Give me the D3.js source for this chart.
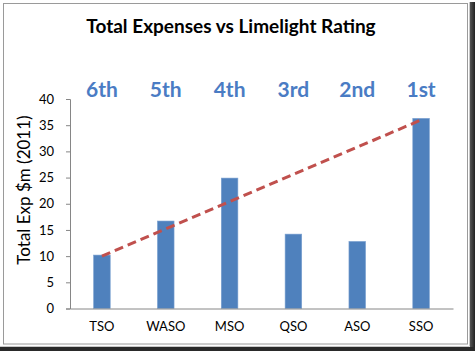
<!DOCTYPE html>
<meta charset="utf-8">
<script src="https://d3js.org/d3.v7.min.js"></script>
<style>
  body { margin: 0; background: #fff; }
  text { font-family: Lato, "Open Sans", sans-serif; }
</style>
<div id="chart"></div>
<script>

  // data
  var orchestras = ["TSO", "WASO", "MSO", "QSO", "ASO", "SSO"];
  var expenses = [10.2, 16.7, 24.9, 14.2, 12.8, 36.3];
  var ratings = ["6th", "5th", "4th", "3rd", "2nd", "1st"];
  var yTicks = [0, 5, 10, 15, 20, 25, 30, 35, 40];
  // dashed line from the 6th to the 1st
  var trendCats = ["TSO", "SSO"];
  var trendValues = [10, 36];

  var W = 475, H = 351;
  var margin = {top: 99, right: 22, bottom: 42.5, left: 70},
      width = 453 - margin.left,
      height = 308.5 - margin.top;

  var svg = d3.select("#chart")
    .append("svg")
      .attr("width", W)
      .attr("height", H);

  // frame + shadow
  var grad = svg.append("defs").append("linearGradient")
      .attr("id", "shadowR").attr("x1", 0).attr("x2", 1).attr("y1", 0).attr("y2", 0);
  grad.append("stop").attr("offset", "0%").attr("stop-color", "#555");
  grad.append("stop").attr("offset", "100%").attr("stop-color", "#222");
  svg.append("rect").attr("x", 470).attr("y", 2).attr("width", 5).attr("height", 349).style("fill", "url(#shadowR)");
  svg.append("rect").attr("x", 0).attr("y", 347).attr("width", 475).attr("height", 4).style("fill", "#2a2a2a");
  svg.append("path").attr("d", "M469.5,2V346.5H0")
      .style("fill", "none").style("stroke", "#c8c8c8");
  svg.append("rect").attr("x", 3.5).attr("y", 3.5).attr("width", 464).attr("height", 340.5)
      .style("fill", "#fff").style("stroke", "#9a9a9a");

  var g = svg.append("g")
      .attr("transform", "translate(" + margin.left + "," + margin.top + ")");

  var x = d3.scaleBand()
    .domain(orchestras)
    .range([0, width])
    .paddingInner(0.74)
    .paddingOuter(0.37);

  var y = d3.scaleLinear()
    .domain([0, 40])
    .range([height, 0]);

  // Y axis
  var yAxis = g.append("g")
      .call(d3.axisLeft(y).tickValues(yTicks).tickSize(4).tickPadding(12));
  yAxis.select(".domain").style("stroke", "#868686");
  yAxis.selectAll(".tick line").style("stroke", "#868686");
  yAxis.selectAll(".tick text").style("font-size", "13px").style("fill", "#000");

  // bars
  g.selectAll(".bar")
    .data(expenses)
    .enter()
    .append("rect")
      .attr("class", "bar")
      .attr("x", function (d, i) { return x(orchestras[i]); })
      .attr("y", function (d) { return y(d); })
      .attr("width", x.bandwidth())
      .attr("height", function (d) { return height - y(d); })
      .style("fill", "#4F81BD")
      .style("stroke", "#7aa0d0")
      .style("stroke-width", 0.6);

  // X axis
  var xAxis = g.append("g")
      .attr("transform", "translate(0," + height + ")")
      .call(d3.axisBottom(x).tickSize(0).tickPadding(13).tickSizeOuter(0));
  xAxis.select(".domain").style("stroke", "#868686");
  xAxis.selectAll(".tick text").style("font-size", "13px").style("fill", "#000");

  // dashed line
  var line = d3.line()
    .x(function (d, i) { return x(trendCats[i]) + x.bandwidth() / 2; })
    .y(function (d) { return y(d); });
  g.append("path")
    .datum(trendValues)
    .attr("d", line)
    .style("fill", "none")
    .style("stroke", "#C0504D")
    .style("stroke-width", 3)
    .style("stroke-dasharray", "9,5");

  // rating labels
  g.selectAll(".rating")
    .data(ratings)
    .enter()
    .append("text")
      .attr("class", "rating")
      .attr("x", function (d, i) { return x(orchestras[i]) + x.bandwidth() / 2; })
      .attr("y", -2)
      .attr("text-anchor", "middle")
      .style("font-size", "21px")
      .style("font-weight", "bold")
      .style("fill", "#4A7CC4")
      .text(function (d) { return d; });

  // title
  svg.append("text")
    .attr("x", 231)
    .attr("y", 33)
    .attr("text-anchor", "middle")
    .style("font-size", "19px")
    .style("font-weight", "bold")
    .text("Total Expenses vs Limelight Rating");

  // Y axis label
  svg.append("text")
    .attr("text-anchor", "middle")
    .attr("transform", "translate(30,190) rotate(-90)")
    .style("font-size", "17px")
    .text("Total Exp $m (2011)");

</script>
